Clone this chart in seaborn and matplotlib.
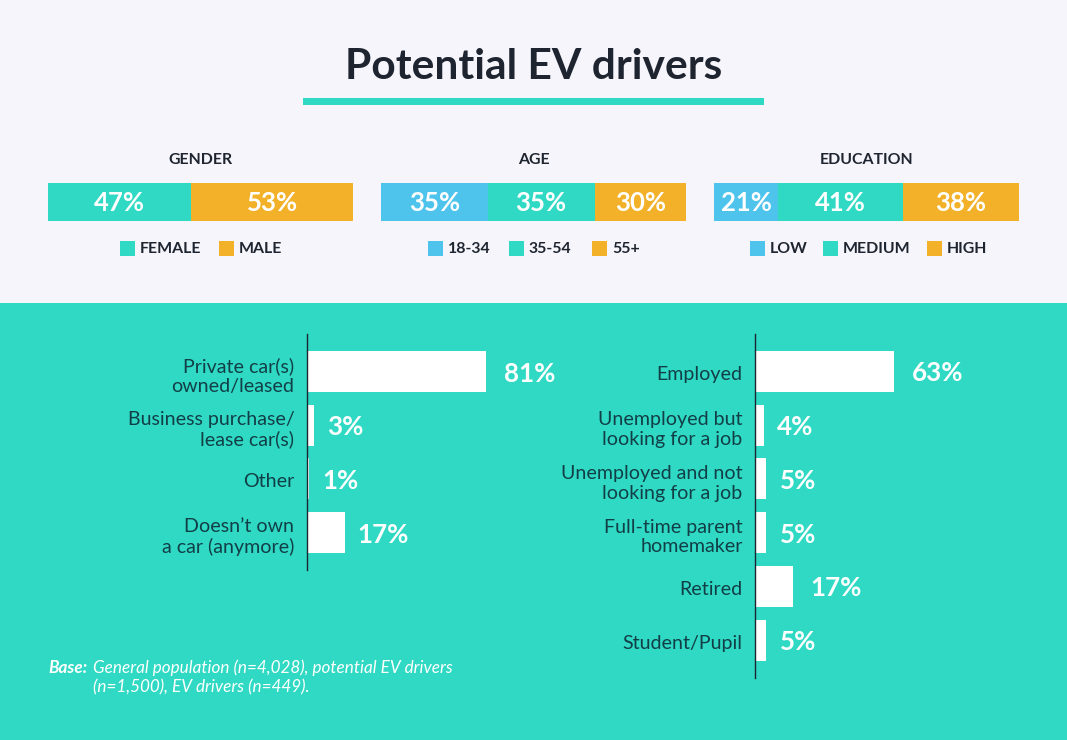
import matplotlib
matplotlib.use("Agg")
import matplotlib.pyplot as plt
from matplotlib.patches import Rectangle
from matplotlib.transforms import ScaledTranslation
import pandas as pd
import seaborn as sns

sns.set_theme(style="white")
plt.rcParams["font.family"] = ["Lato", "DejaVu Sans"]

W, H = 1067, 740
BG, TEAL, AMBER, BLUE = "#F5F5FB", "#2FD9C3", "#F2B128", "#4EC3EC"
INK, DEEP = "#1F2530", "#123F47"

title = "Potential EV drivers"

gender_names = ["FEMALE", "MALE"]
gender_values = [47, 53]
age_names = ["18-34", "35-54", "55+"]
age_values = [35, 35, 30]
education_names = ["LOW", "MEDIUM", "HIGH"]
education_values = [21, 41, 38]

car_labels = ["Private car(s)\nowned/leased", "Business purchase/\nlease car(s)", "Other", "Doesn\u2019t own\na car (anymore)"]
car_values = [81, 3, 1, 17]
job_labels = ["Employed", "Unemployed but\nlooking for a job", "Unemployed and not\nlooking for a job",
              "Full-time parent\nhomemaker", "Retired", "Student/Pupil"]
job_values = [63, 4, 5, 5, 17, 5]

fig = plt.figure(figsize=(W / 100, H / 100), dpi=100, facecolor=BG)


def box(x0, y0, x1, y1):
    return [x0 / W, 1 - y1 / H, (x1 - x0) / W, (y1 - y0) / H]


def ftext(x, y, s, **kw):
    kw.setdefault("va", "center")
    return fig.text(x / W, 1 - y / H, s, **kw)


def frect(x0, y0, x1, y1, color):
    fig.add_artist(Rectangle((x0 / W, 1 - y1 / H), (x1 - x0) / W, (y1 - y0) / H,
                             transform=fig.transFigure, facecolor=color, edgecolor="none", zorder=-5))


# header and panel
frect(0, 303, W, H, TEAL)
ftext(533.5, 67, title, ha="center", fontsize=30.6, fontweight="bold", color=INK)
frect(303, 98.5, 764, 104.5, TEAL)


def stacked(x0, heading, names, values, colors, swatches):
    ax = fig.add_axes(box(x0, 183, x0 + 305, 221))
    ax.patch.set_alpha(0)
    left = 0
    for name, value, color in zip(names, values, colors):
        d = pd.DataFrame({"group": [heading], "share": [value]})
        sns.barplot(data=d, x="share", y="group", orient="h", color=color, saturation=1,
                    width=1, left=left, ax=ax, linewidth=0)
        ax.annotate(f"{value}%", (left + value / 2, 0), xytext=(0, 1), textcoords="offset points",
                    ha="center", va="center_baseline", color="white", fontsize=18.5, fontweight="bold")
        left += value
    ax.set_xlim(0, 100)
    ax.set_ylim(0.5, -0.5)
    ax.axis("off")
    ftext(x0 + 152.5, 160, heading, ha="center", fontsize=11.4, fontweight="bold", color=INK)
    for name, color, sx in zip(names, colors, swatches):
        frect(sx, 240.5, sx + 15, 255.5, color)
        ftext(sx + 20, 249, name, ha="left", fontsize=11.4, fontweight="bold", color=INK)


stacked(48, "GENDER", gender_names, gender_values, [TEAL, AMBER], [120, 219])
stacked(381, "AGE", age_names, age_values, [BLUE, TEAL, AMBER], [428, 509, 592])
stacked(714, "EDUCATION", education_names, education_values, [BLUE, TEAL, AMBER], [750, 823, 927])


def hbars(x0, y0, y1, labels, values, gaps):
    unit = 2.21       # px per percentage point
    pitch = 53.7      # px between bars
    ax = fig.add_axes(box(x0, y0, x0 + 250, y1))
    ax.patch.set_alpha(0)
    d = pd.DataFrame({"label": labels, "value": values})
    sns.barplot(data=d, x="value", y="label", orient="h", color="white", saturation=1,
                width=41 / pitch, ax=ax, linewidth=0)
    ax.set_xlim(0, 250 / unit)
    ax.set_ylim((y1 - 371.5) / pitch, (y0 - 371.5) / pitch)
    ax.set_xlabel("")
    ax.set_ylabel("")
    ax.xaxis.set_visible(False)
    for s in ("top", "right", "bottom"):
        ax.spines[s].set_visible(False)
    ax.spines["left"].set_color(INK)
    ax.spines["left"].set_linewidth(1.0)
    ax.tick_params(axis="y", length=0, pad=9)
    shift = ScaledTranslation(0, -1.5 / 100, fig.dpi_scale_trans)
    for t in ax.get_yticklabels():
        t.set(fontsize=14.1, color=DEEP, ha="right", linespacing=1.19, multialignment="right")
        t.set_transform(t.get_transform() + shift)
    for i, (v, g) in enumerate(zip(values, gaps)):
        ax.annotate(f"{v}%", (v, i), xytext=(g * 0.72, 0), textcoords="offset points",
                    ha="left", va="center_baseline", color="white", fontsize=18.7, fontweight="bold")


hbars(307, 334, 570, car_labels, car_values, [18, 13, 13, 13])
hbars(755, 334, 678, job_labels, job_values, [18, 13, 14, 14, 18, 14])

# note
ftext(48, 668, "Base:", ha="left", fontsize=12.3, fontweight="bold", style="italic", color="white")
ftext(93, 668, "General population (n=4,028), potential EV drivers", ha="left",
      fontsize=12.3, style="italic", color="white")
ftext(93, 687.5, "(n=1,500), EV drivers (n=449).", ha="left", fontsize=12.3, style="italic", color="white")

fig.savefig("out.png", dpi=100, facecolor=BG)
